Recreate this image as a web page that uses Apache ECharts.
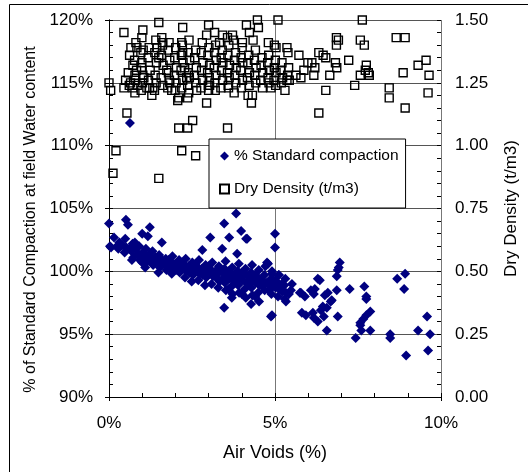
<!DOCTYPE html>
<html>
<head>
<meta charset="utf-8">
<script src="https://cdn.jsdelivr.net/npm/echarts@6/dist/echarts.min.js"></script>
<style>html,body{margin:0;padding:0;background:#fff}#chart{width:528px;height:472px}</style>
</head>
<body>
<div id="chart"></div>
<script>
var seriesNames = ['% Standard compaction', 'Dry Density (t/m3)'];
var xAxisTitle = 'Air Voids (%)';
var leftAxisTitle = '% of Standard Compaction at field Water content';
var rightAxisTitle = 'Dry Density (t/m3)';
var xTickLabels = ['0%', '5%', '10%'];
var leftTickLabels = ['90%', '95%', '100%', '105%', '110%', '115%', '120%'];
var rightTickLabels = ['0.00', '0.25', '0.50', '0.75', '1.00', '1.25', '1.50'];

// [air voids %, % standard compaction]
var compactionPoints = [
[0.00,103.8],[0.03,102.0],[0.51,104.1],[0.57,103.7],[0.15,102.7],[0.06,101.9],[0.24,102.0],[0.63,111.8],[1.00,103.0],[1.23,103.5],[1.17,102.8],[0.78,102.3],[0.69,100.9],[1.00,100.7],[1.59,102.3],[3.05,102.7],[2.81,101.7],[3.62,102.7],[4.13,102.6],[3.83,104.6],[3.47,103.8],[3.98,103.2],[4.16,102.6],[3.41,101.8],[3.86,101.4],[4.76,100.7],[5.00,103.0],[5.00,101.9],[4.91,99.8],[5.12,99.7],[6.35,99.3],[4.91,96.5],[3.47,97.1],[3.70,97.9],[4.28,97.4],[4.79,100.6],[4.88,96.4],
[5.42,98.2],[5.33,97.6],[5.78,98.3],[6.08,98.5],[6.17,98.2],[6.50,98.1],[5.81,96.7],[5.93,96.5],[6.17,96.3],[6.38,96.9],[6.47,96.4],[6.29,99.4],[6.20,98.6],[5.75,98.3],[5.90,98.0],[6.44,97.2],[6.29,96.0],[6.14,96.7],[6.68,97.6],[6.56,95.3],
[6.95,100.7],[6.92,100.3],[6.89,100.1],[6.86,99.6],[6.86,98.5],[6.59,98.3],[6.71,97.7],[6.56,97.1],[6.89,96.4],[7.25,98.6],[7.43,94.7],[7.69,98.8],[7.75,98.0],[7.75,97.8],[7.87,96.8],[7.75,96.5],[7.66,96.2],[7.57,95.9],[7.57,95.7],[7.60,95.3],[7.87,95.3],[8.47,95.0],[8.47,94.7],[8.68,99.4],[8.92,99.8],[8.89,98.6],[8.95,93.3],[9.31,95.3],[9.58,96.4],[9.67,95.0],[9.61,93.7],
[0.31,102.3],[0.28,101.8],
[0.49,102.6],[0.52,101.9],[0.47,101.5],
[0.71,102.2],[0.68,101.6],[0.73,101.1],
[0.91,102.0],[0.88,101.4],[0.93,100.9],
[1.11,101.8],[1.08,101.2],[1.13,100.7],[1.09,100.3],
[1.31,101.6],[1.28,101.0],[1.33,100.5],
[1.51,101.3],[1.48,100.8],[1.53,100.3],[1.49,99.9],
[1.71,101.0],[1.68,100.6],[1.73,100.1],
[1.91,101.2],[1.88,100.7],[1.93,100.2],[1.89,99.8],
[2.11,100.9],[2.08,100.4],[2.13,99.9],
[2.31,101.0],[2.28,100.5],[2.33,100.0],[2.29,99.5],
[2.51,100.7],[2.48,100.2],[2.53,99.7],[2.49,99.2],
[2.71,100.9],[2.68,100.3],[2.73,99.8],[2.69,99.3],
[2.91,100.5],[2.88,100.0],[2.93,99.5],[2.89,98.9],
[3.11,100.7],[3.08,100.1],[3.13,99.6],[3.09,99.0],
[3.31,100.4],[3.28,99.8],[3.33,99.2],[3.29,98.7],
[3.51,100.8],[3.48,100.2],[3.53,99.7],[3.49,99.1],[3.52,98.5],
[3.71,100.3],[3.68,99.8],[3.73,99.3],[3.69,98.8],[3.72,98.2],
[3.91,100.6],[3.88,100.0],[3.93,99.5],[3.89,98.9],[3.92,98.3],
[4.11,100.2],[4.08,99.7],[4.13,99.1],[4.09,98.6],[4.12,97.9],
[4.31,100.5],[4.28,99.9],[4.33,99.3],[4.29,98.7],[4.32,98.1],
[4.51,100.1],[4.48,99.5],[4.53,98.9],[4.49,98.3],[4.52,97.6],
[4.71,100.4],[4.68,99.7],[4.73,99.1],[4.69,98.5],
[4.91,100.0],[4.88,99.4],[4.93,98.8],[4.89,98.2],
[5.11,99.7],[5.08,99.1],[5.13,98.6],[5.09,98.0],
[5.31,99.4],[5.28,98.9],[5.33,98.3],[5.29,97.8],
[5.51,99.0],[5.48,98.5],
[0.40,102.1],[0.62,101.8],[0.80,101.9],[1.02,101.5],[1.20,101.3],[1.40,101.1],[1.60,100.9],[1.80,100.9],[1.82,100.4],[2.00,100.6],[2.02,100.1],
[2.20,100.7],[2.22,100.2],[2.40,100.4],[2.42,99.9],[2.60,100.5],[2.62,100.0],[2.80,100.2],[2.82,99.7],[3.00,100.4],[3.02,99.8],[3.20,100.0],[3.22,99.5],
[3.40,100.0],[3.42,99.4],[3.60,100.0],[3.62,99.4],[3.80,99.7],[3.82,99.1],[4.00,99.9],[4.02,99.3],[4.20,99.6],[4.22,99.0],[4.40,99.7],[4.42,99.1],
[4.60,99.3],[4.62,98.8],[4.80,99.0],[4.82,98.5],[5.00,99.3],[5.02,98.7],[5.20,99.0],[5.22,98.4],[3.60,98.6],[4.00,98.2],[4.40,98.0]
];

// [air voids %, dry density t/m3]
var densityPoints = [
[0.00,1.25],[0.05,1.22],[0.45,1.45],[0.54,1.13],[0.45,1.23],[0.50,1.26],[0.72,1.23],[0.78,1.21],[0.66,1.39],[0.84,1.39],[1.02,1.46],[0.99,1.43],[0.96,1.37],[0.99,1.33],[1.02,1.28],[0.78,1.28],[0.72,1.32],[1.14,1.23],[1.29,1.20],[1.32,1.23],[1.50,1.49],[1.44,1.39],[1.50,1.35],[1.59,1.43],[1.62,1.41],[1.74,1.30],[1.83,1.25],[1.89,1.22],[2.07,1.18],[2.10,1.19],[2.22,1.47],[2.19,1.41],[2.22,1.37],[2.28,1.31],[2.34,1.27],[2.37,1.19],[2.10,1.07],[2.37,1.07],[2.52,1.10],[2.19,0.98],[2.61,0.96],[1.50,0.87],[0.12,0.89],[0.21,0.98],[2.64,1.22],[2.94,1.17],[3.00,1.48],[2.94,1.44],[3.18,1.45],[3.42,1.44],[3.57,1.43],[3.72,1.44],[4.14,1.48],[4.47,1.50],[4.50,1.47],[4.23,1.45],[3.57,1.07],[3.00,1.22],[3.03,1.24],[3.60,1.23],[4.29,1.17],[4.32,1.20],[5.09,1.50],[4.34,1.42],[3.33,1.41],[3.75,1.42],[4.02,1.41],[4.80,1.41],[4.98,1.40],[5.03,1.39],[5.36,1.39],[5.39,1.37],[5.72,1.36],[6.32,1.37],[6.45,1.36],[6.53,1.35],[5.99,1.33],[6.11,1.33],[6.20,1.31],[5.87,1.30],[6.17,1.28],[5.63,1.28],[5.78,1.27],[5.36,1.26],[5.30,1.22],[4.88,1.23],[6.32,1.13],[6.53,1.22],[7.63,1.50],[8.65,1.43],[8.92,1.43],[6.85,1.43],[6.91,1.42],[6.85,1.40],[7.57,1.42],[7.69,1.40],[7.22,1.34],[6.82,1.33],[6.86,1.31],[6.65,1.28],[7.75,1.32],[7.72,1.30],[7.57,1.28],[7.81,1.29],[7.84,1.28],[7.40,1.24],[8.44,1.23],[8.44,1.19],[8.92,1.15],[8.86,1.29],[9.31,1.32],[9.55,1.34],[9.64,1.28],[9.61,1.21],
[0.62,1.36],[0.58,1.29],[0.65,1.25],[0.61,1.24],
[0.81,1.41],[0.77,1.34],[0.83,1.30],[0.79,1.26],[0.85,1.24],
[1.03,1.38],[0.98,1.31],[1.05,1.27],[1.01,1.25],[0.97,1.22],
[1.21,1.39],[1.18,1.35],[1.24,1.30],[1.19,1.26],[1.22,1.23],
[1.41,1.42],[1.38,1.37],[1.43,1.33],[1.39,1.28],[1.42,1.25],[1.37,1.22],
[1.61,1.40],[1.58,1.36],[1.63,1.32],[1.57,1.27],[1.62,1.24],
[1.81,1.41],[1.78,1.38],[1.83,1.34],[1.79,1.29],[1.82,1.26],[1.77,1.23],
[2.01,1.39],[1.98,1.35],[2.03,1.31],[1.97,1.28],[2.02,1.25],[1.99,1.22],
[2.21,1.40],[2.18,1.36],[2.23,1.33],[2.17,1.30],[2.22,1.26],[2.19,1.23],
[2.41,1.42],[2.38,1.37],[2.43,1.34],[2.39,1.29],[2.42,1.27],[2.37,1.24],[2.40,1.21],
[2.61,1.38],[2.58,1.35],[2.63,1.31],[2.57,1.28],[2.62,1.25],
[2.81,1.41],[2.78,1.37],[2.83,1.33],[2.79,1.30],[2.82,1.26],[2.77,1.23],
[3.01,1.39],[2.98,1.36],[3.03,1.32],[2.97,1.29],[3.02,1.27],[2.99,1.24],
[3.21,1.40],[3.18,1.37],[3.23,1.34],[3.17,1.31],[3.22,1.28],[3.19,1.25],[3.20,1.22],
[3.41,1.38],[3.38,1.35],[3.43,1.33],[3.39,1.30],[3.42,1.26],[3.37,1.23],
[3.61,1.40],[3.58,1.36],[3.63,1.32],[3.57,1.29],[3.62,1.27],[3.59,1.24],
[3.81,1.37],[3.78,1.34],[3.83,1.31],[3.79,1.28],[3.82,1.25],[3.77,1.21],
[4.01,1.39],[3.98,1.35],[4.03,1.33],[3.97,1.30],[4.02,1.26],[3.99,1.23],
[4.21,1.36],[4.18,1.33],[4.23,1.29],[4.17,1.27],[4.22,1.24],[4.19,1.20],
[4.41,1.38],[4.38,1.34],[4.43,1.31],[4.39,1.28],[4.42,1.25],
[4.61,1.35],[4.58,1.32],[4.63,1.29],[4.57,1.26],[4.62,1.23],
[4.81,1.36],[4.78,1.33],[4.83,1.30],[4.79,1.27],[4.82,1.25],
[5.01,1.34],[4.98,1.31],[5.03,1.29],[4.97,1.26],[5.02,1.24],
[5.21,1.33],[5.18,1.30],[5.23,1.27],[5.19,1.25],
[5.41,1.31],[5.38,1.28],[5.43,1.26]
];

var FONT = '"Liberation Sans", Arial, sans-serif';
var chart = echarts.init(document.getElementById('chart'), null, {renderer: 'canvas'});

function lbl(list, min, step) {
  return function (v) {
    var i = Math.round((v - min) / step);
    return list[i] !== undefined ? list[i] : '';
  };
}

chart.setOption({
  backgroundColor: '#ffffff',
  animation: false,
  graphic: [{
    type: 'rect', silent: true, z: 100,
    shape: {x: 9.5, y: 4.5, width: 640, height: 640},
    style: {fill: 'none', stroke: '#000', lineWidth: 1}
  }],
  grid: {left: 109, right: 85, top: 20, bottom: 75, containLabel: false},
  legend: {
    orient: 'vertical', left: 209, top: 139,
    backgroundColor: '#ffffff', borderColor: '#000', borderWidth: 1,
    padding: [9, 7, 11, 10], itemGap: 17, itemWidth: 9, itemHeight: 9,
    textStyle: {fontFamily: FONT, fontSize: 15.5, color: '#000'},
    data: [{name: seriesNames[0], icon: 'diamond'}, {name: seriesNames[1], icon: 'rect'}],
    z: 10
  },
  xAxis: [{
    type: 'value', min: 0, max: 10, interval: 5,
    name: xAxisTitle, nameLocation: 'middle', nameGap: 47,
    nameTextStyle: {fontFamily: FONT, fontSize: 18, color: '#000'},
    axisLine: {show: true, lineStyle: {color: '#000', width: 1}},
    axisTick: {show: true, inside: false, length: 4, lineStyle: {color: '#000'}},
    axisLabel: {margin: 18, fontFamily: FONT, fontSize: 17, color: '#000', formatter: lbl(xTickLabels, 0, 5)},
    splitLine: {show: true, lineStyle: {color: '#777', width: 1}}
  }, {
    type: 'value', min: 0, max: 10, interval: 1, position: 'bottom',
    axisLine: {show: false}, axisLabel: {show: false}, splitLine: {show: false},
    axisTick: {show: true, inside: true, length: 4, lineStyle: {color: '#000'}}
  }],
  yAxis: [{
    type: 'value', min: 90, max: 120, interval: 5, position: 'left',
    name: leftAxisTitle, nameLocation: 'middle', nameGap: 70, nameRotate: 90,
    nameTextStyle: {fontFamily: FONT, fontSize: 16, color: '#000', padding: [0, 22, 0, 0]},
    axisLine: {show: true, lineStyle: {color: '#000', width: 1}},
    axisTick: {show: true, inside: false, length: 4, lineStyle: {color: '#000'}},
    axisLabel: {margin: 16, fontFamily: FONT, fontSize: 17, color: '#000', formatter: lbl(leftTickLabels, 90, 5)},
    splitLine: {show: true, lineStyle: {color: '#555', width: 1}}
  }, {
    type: 'value', min: 0, max: 1.5, interval: 0.25, position: 'right',
    name: rightAxisTitle, nameLocation: 'middle', nameGap: 62, nameRotate: 90,
    nameTextStyle: {fontFamily: FONT, fontSize: 17, color: '#000'},
    axisLine: {show: true, lineStyle: {color: '#000', width: 1}},
    axisTick: {show: true, inside: false, length: 4, lineStyle: {color: '#000'}},
    axisLabel: {margin: 14, fontFamily: FONT, fontSize: 17, color: '#000', formatter: lbl(rightTickLabels, 0, 0.25)},
    splitLine: {show: false}
  }, {
    type: 'value', min: 90, max: 120, interval: 1, position: 'left',
    axisLine: {show: false}, axisLabel: {show: false}, splitLine: {show: false},
    axisTick: {show: true, inside: true, length: 4, lineStyle: {color: '#000'}}
  }, {
    type: 'value', min: 0, max: 1.5, interval: 0.05, position: 'right',
    axisLine: {show: false}, axisLabel: {show: false}, splitLine: {show: false},
    axisTick: {show: true, inside: true, length: 4, lineStyle: {color: '#000'}}
  }],
  series: [{
    name: seriesNames[1], type: 'scatter', xAxisIndex: 0, yAxisIndex: 1,
    symbol: 'rect', symbolSize: 8,
    itemStyle: {color: 'rgba(255,255,255,0)', borderColor: '#000', borderWidth: 1.4, opacity: 1},
    data: densityPoints, z: 3
  }, {
    name: seriesNames[0], type: 'scatter', xAxisIndex: 0, yAxisIndex: 0,
    symbol: 'diamond', symbolSize: 10,
    itemStyle: {color: '#000080', opacity: 1},
    data: compactionPoints, z: 4
  }]
});
</script>
</body>
</html>
